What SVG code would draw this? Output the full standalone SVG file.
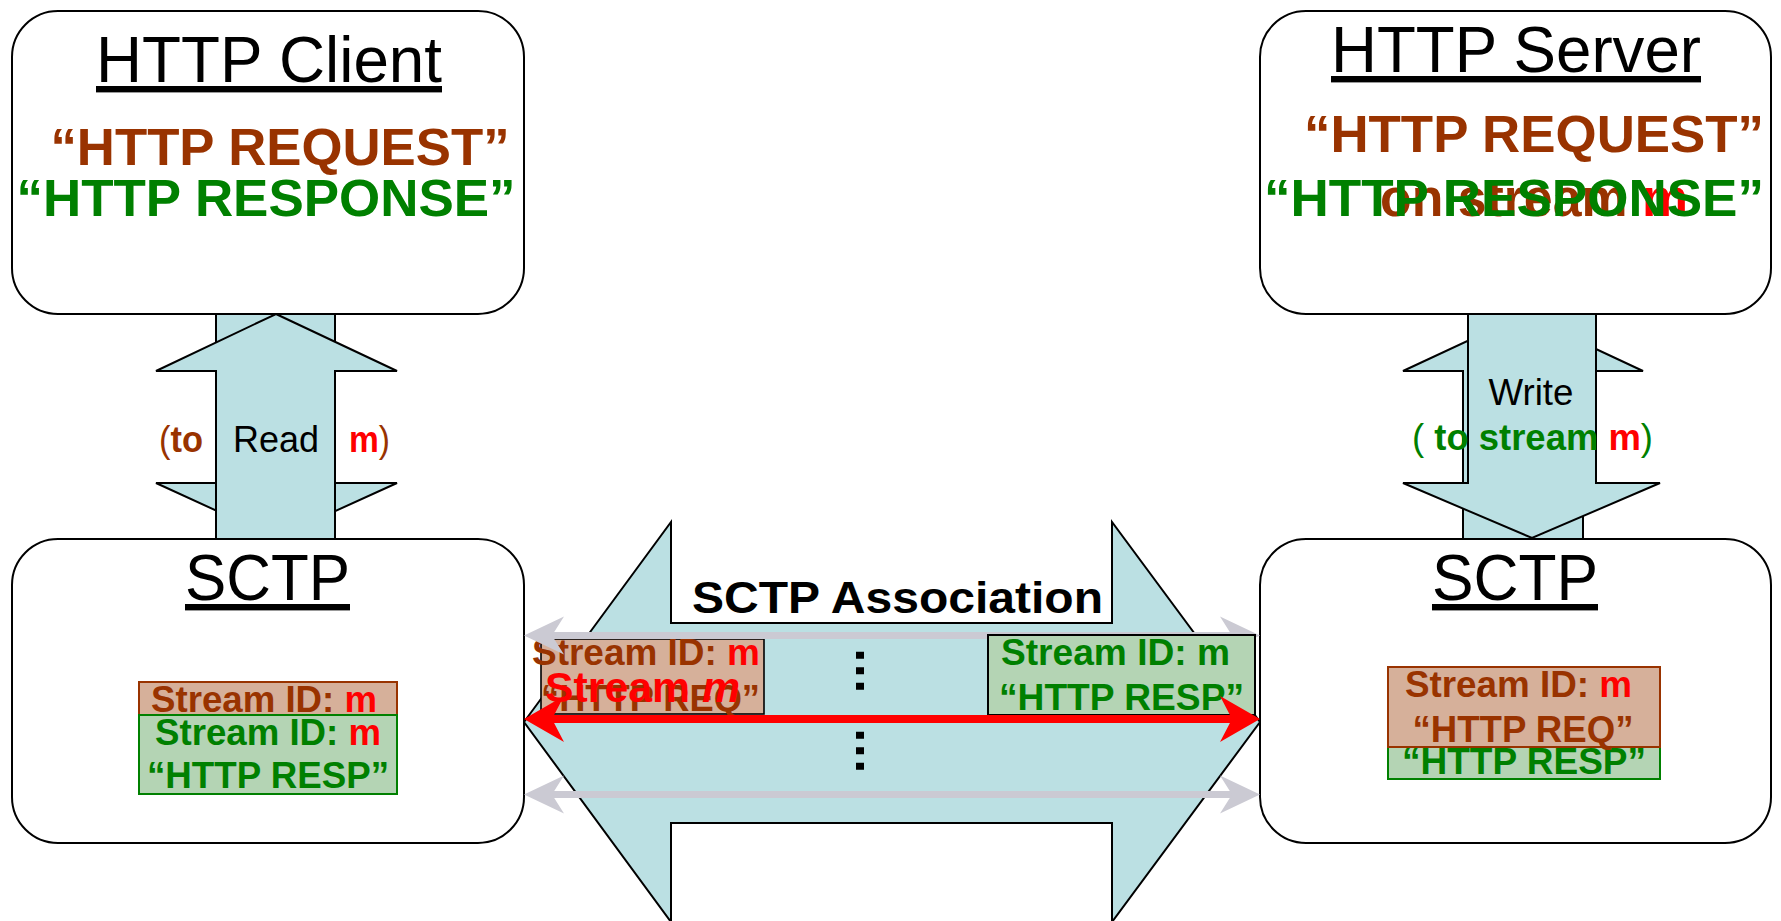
<svg xmlns="http://www.w3.org/2000/svg" width="1781" height="921" viewBox="0 0 1781 921">
<style>
text{font-family:"Liberation Sans",Arial,Helvetica,sans-serif}
.box{fill:#FFFFFF;stroke:#000;stroke-width:2}
.blk{fill:#BBE0E3;stroke:#000;stroke-width:2;stroke-linejoin:miter}
.title{font-size:64px;fill:#000;text-anchor:middle;text-decoration:underline}
.q{font-size:51px;font-weight:bold;text-anchor:middle}
.lbl{font-size:36px;font-weight:bold}
.rw{font-size:36px;fill:#000;text-anchor:middle}
.n{font-weight:normal}
.sid{font-size:36px;font-weight:bold;text-anchor:middle}
.br{fill:#993300}
.gr{fill:#008000}
.rd{fill:#FF0000}
.bbox{fill:#D6B09A}
.gbox{fill:#B4D4B4}
.gray{stroke:#CBCAD3;stroke-width:7;fill:none}
.red{stroke:#FF0000;stroke-width:8;fill:none}
.dots{stroke:#000;stroke-width:8;stroke-dasharray:7 8.5;fill:none}
</style>
<defs>
<marker id="grayHead" markerUnits="userSpaceOnUse" markerWidth="40" markerHeight="38" refX="12" refY="19" orient="auto-start-reverse" overflow="visible">
<path d="M0,0 L40,19 L0,38 L12,19 Z" fill="#CBCAD3"/>
</marker>
<marker id="redHead" markerUnits="userSpaceOnUse" markerWidth="40" markerHeight="46" refX="12" refY="23" orient="auto-start-reverse" overflow="visible">
<path d="M0,0 L40,23 L0,46 L12,23 Z" fill="#FF0000"/>
</marker>
</defs>

<g id="block-arrows">
<g id="read-arrow">
<polygon class="blk" points="216,314 335,314 335,483 397,483 276,538 156,483 216,483"/>
<polygon class="blk" points="276,314 397,371 335,371 335,540 216,540 216,371 156,371"/>
<text class="rw" x="276" y="452" textLength="86" lengthAdjust="spacingAndGlyphs">Read</text>
<text class="lbl br" x="159" y="452" textLength="44" lengthAdjust="spacingAndGlyphs"><tspan class="n">(</tspan>to</text>
<text class="lbl rd" x="349" y="452" textLength="41" lengthAdjust="spacingAndGlyphs">m<tspan class="n br">)</tspan></text>
</g>
<g id="write-arrow">
<polygon class="blk" points="1523,315 1643,371 1583,371 1583,540 1463,540 1463,371 1403,371"/>
<polygon class="blk" points="1468,314 1596,314 1596,483 1660,483 1532,538 1403,483 1468,483"/>
<text class="rw" x="1531" y="405" textLength="85" lengthAdjust="spacingAndGlyphs">Write</text>
<text class="lbl gr" x="1532.5" y="450" text-anchor="middle" textLength="241" lengthAdjust="spacingAndGlyphs"><tspan class="n">(</tspan> to stream <tspan class="rd">m</tspan><tspan class="n">)</tspan></text>
</g>
<g id="association">
<polygon class="blk" stroke-width="1.6" points="524,722 671,522 671,623 1112,623 1112,522 1260,722 1112,922 1112,823 671,823 671,922"/>
<text x="897.5" y="613" font-size="44" font-weight="bold" text-anchor="middle" fill="#000" textLength="411" lengthAdjust="spacingAndGlyphs">SCTP Association</text>
</g>
</g>

<g id="http-client">
<rect class="box" x="12" y="11" width="512" height="303" rx="46" ry="46"/>
<text class="title" x="269" y="82" textLength="346" lengthAdjust="spacingAndGlyphs">HTTP Client</text>
<text class="q br" x="280" y="165" textLength="459" lengthAdjust="spacingAndGlyphs">“HTTP REQUEST”</text>
<text class="q gr" x="266" y="216" textLength="499" lengthAdjust="spacingAndGlyphs">“HTTP RESPONSE”</text>
</g>

<g id="http-server">
<rect class="box" x="1260" y="11" width="511" height="303" rx="46" ry="46"/>
<text class="title" x="1516" y="72" textLength="370" lengthAdjust="spacingAndGlyphs">HTTP Server</text>
<text class="q br" x="1534" y="152" textLength="460" lengthAdjust="spacingAndGlyphs">“HTTP REQUEST”</text>
<text class="q br" x="1534" y="216" textLength="308" lengthAdjust="spacingAndGlyphs">on stream <tspan class="rd">m</tspan></text>
<text class="q gr" x="1514" y="216" textLength="500" lengthAdjust="spacingAndGlyphs">“HTTP RESPONSE”</text>
</g>

<g id="sctp-client">
<rect class="box" x="12" y="539" width="512" height="304" rx="46" ry="46"/>
<text class="title" x="267.5" y="600" textLength="165" lengthAdjust="spacingAndGlyphs">SCTP</text>
<rect class="bbox" x="139" y="682" width="258" height="60" stroke="#993300" stroke-width="2"/>
<text class="sid br" x="264" y="712" textLength="226" lengthAdjust="spacingAndGlyphs">Stream ID: <tspan class="rd">m</tspan></text>
<rect class="gbox" x="139" y="715" width="258" height="79" stroke="#008000" stroke-width="2"/>
<text class="sid gr" x="268" y="745" textLength="226" lengthAdjust="spacingAndGlyphs">Stream ID: <tspan class="rd">m</tspan></text>
<text class="sid gr" x="268" y="788" textLength="242" lengthAdjust="spacingAndGlyphs">“HTTP RESP”</text>
</g>

<g id="sctp-server">
<rect class="box" x="1260" y="539" width="511" height="304" rx="46" ry="46"/>
<text class="title" x="1515" y="600" textLength="166" lengthAdjust="spacingAndGlyphs">SCTP</text>
<rect class="gbox" x="1388" y="700" width="272" height="79" stroke="#008000" stroke-width="2"/>
<text class="sid gr" x="1524" y="774" textLength="244" lengthAdjust="spacingAndGlyphs">“HTTP RESP”</text>
<rect class="bbox" x="1388" y="667" width="272" height="80" stroke="#993300" stroke-width="2"/>
<text class="sid br" x="1518.5" y="697" textLength="227" lengthAdjust="spacingAndGlyphs">Stream ID: <tspan class="rd">m</tspan></text>
<text class="sid br" x="1523" y="742" textLength="221" lengthAdjust="spacingAndGlyphs">“HTTP REQ”</text>
</g>

<g id="msg-request">
<rect class="bbox" x="541" y="639" width="223" height="75" stroke="#000" stroke-width="1.6"/>
<text class="sid br" x="646" y="665" textLength="228" lengthAdjust="spacingAndGlyphs">Stream ID: <tspan class="rd">m</tspan></text>
<text class="sid br" x="650.5" y="711" textLength="219" lengthAdjust="spacingAndGlyphs">“HTTP REQ”</text>
</g>

<g id="connectors">
<line class="gray" x1="552" y1="635.5" x2="1232" y2="635.5" marker-start="url(#grayHead)" marker-end="url(#grayHead)"/>
<line class="gray" x1="552" y1="794.5" x2="1232" y2="794.5" marker-start="url(#grayHead)" marker-end="url(#grayHead)"/>
<line class="dots" x1="860" y1="651.7" x2="860" y2="691"/>
<line class="dots" x1="860" y1="731.7" x2="860" y2="771"/>
</g>

<g id="msg-response">
<rect class="gbox" x="988" y="635" width="267" height="80" stroke="#000" stroke-width="2"/>
<text class="sid gr" x="1115.5" y="665" textLength="229" lengthAdjust="spacingAndGlyphs">Stream ID: m</text>
<text class="sid gr" x="1121.5" y="710" textLength="245" lengthAdjust="spacingAndGlyphs">“HTTP RESP”</text>
</g>

<g id="stream-m">
<line class="red" x1="552" y1="719" x2="1232" y2="719" marker-start="url(#redHead)" marker-end="url(#redHead)"/>
<text x="545" y="702" font-size="42" font-weight="bold" fill="#FF0000" textLength="195" lengthAdjust="spacingAndGlyphs">Stream <tspan font-style="italic">m</tspan></text>
</g>
</svg>
